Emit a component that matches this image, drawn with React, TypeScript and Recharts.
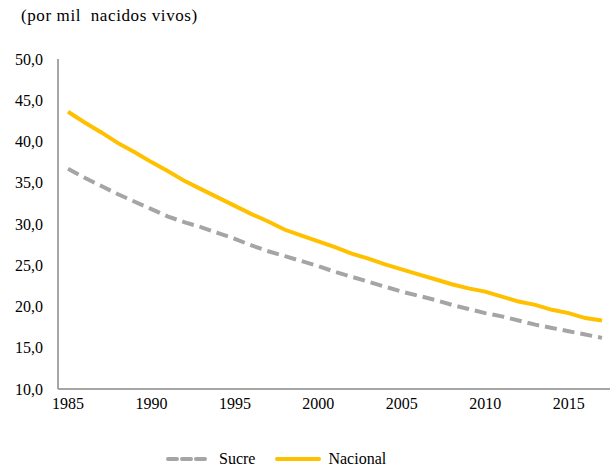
import { CartesianGrid, Line, LineChart, XAxis, YAxis } from "recharts";

const YEARS = [
  1985, 1986, 1987, 1988, 1989, 1990, 1991, 1992, 1993, 1994, 1995, 1996, 1997,
  1998, 1999, 2000, 2001, 2002, 2003, 2004, 2005, 2006, 2007, 2008, 2009, 2010,
  2011, 2012, 2013, 2014, 2015, 2016, 2017,
];

const SUCRE = [
  36.7, 35.6, 34.6, 33.6, 32.7, 31.8, 30.9, 30.2, 29.6, 28.9, 28.2, 27.4, 26.7,
  26.1, 25.5, 24.9, 24.2, 23.6, 23.0, 22.4, 21.8, 21.3, 20.8, 20.2, 19.7, 19.2,
  18.8, 18.3, 17.8, 17.4, 17.0, 16.6, 16.2,
];

const NACIONAL = [
  43.6, 42.3, 41.1, 39.8, 38.7, 37.5, 36.4, 35.2, 34.2, 33.2, 32.2, 31.2, 30.3,
  29.3, 28.6, 27.9, 27.2, 26.4, 25.8, 25.1, 24.5, 23.9, 23.3, 22.7, 22.2, 21.8,
  21.2, 20.6, 20.2, 19.6, 19.2, 18.6, 18.3,
];

const Y_TICKS = [10, 15, 20, 25, 30, 35, 40, 45, 50];

const data = YEARS.map((year, i) => ({
  year,
  sucre: SUCRE[i],
  nacional: NACIONAL[i],
}));

const FONT = "'Liberation Serif', 'DejaVu Serif', 'Times New Roman', serif";
const AXIS = "#898989";
const GREY = "#A5A5A5";
const GOLD = "#FFC000";

const tickStyle = { fontFamily: FONT, fontSize: 16, fill: "#000" };

// legend drawn outside the chart so it doesn't shrink the plot area
function LegendBox() {
  const items = [
    { label: "Sucre", color: GREY, dash: "9 5" },
    { label: "Nacional", color: GOLD, dash: undefined },
  ];
  return (
    <div
      style={{
        position: "absolute",
        left: 166,
        top: 450,
        display: "flex",
        alignItems: "center",
        fontFamily: FONT,
        fontSize: 16,
      }}
    >
      {items.map((it) => (
        <span key={it.label} style={{ display: "flex", alignItems: "center", marginRight: 20 }}>
          <svg width={46} height={10} style={{ marginRight: 7 }}>
            <line
              x1={2}
              y1={5}
              x2={44}
              y2={5}
              stroke={it.color}
              strokeWidth={4}
              strokeDasharray={it.dash}
              strokeLinecap="round"
            />
          </svg>
          {it.label}
        </span>
      ))}
    </div>
  );
}

export default function App() {
  return (
    <div style={{ position: "absolute", left: 0, top: 0, width: 612, height: 473, background: "#fff" }}>
      <div
        style={{
          position: "absolute",
          left: 21,
          top: 6,
          fontFamily: FONT,
          fontSize: 17,
          letterSpacing: 0.6,
          whiteSpace: "pre",
        }}
      >
        (por mil  nacidos vivos)
      </div>
      <LineChart
        width={612}
        height={473}
        data={data}
        margin={{ top: 59, right: 2, bottom: 54, left: 0 }}
      >
        <CartesianGrid stroke="none" />
        <XAxis
          dataKey="year"
          interval={4}
          height={30}
          padding={{ left: 10, right: 8 }}
          stroke={AXIS}
          strokeWidth={1.5}
          tick={tickStyle}
          tickLine={false}
          tickSize={0}
          tickMargin={9}
        />
        <YAxis
          width={58}
          domain={[10, 50]}
          ticks={Y_TICKS}
          interval={0}
          stroke={AXIS}
          strokeWidth={1.5}
          tick={tickStyle}
          tickLine={false}
          tickSize={0}
          tickMargin={15}
          tickFormatter={(v: number) => v.toFixed(1).replace(".", ",")}
        />
        <Line
          type="linear"
          dataKey="sucre"
          name="Sucre"
          stroke={GREY}
          strokeWidth={4}
          strokeDasharray="12 6"
          dot={false}
          isAnimationActive={false}
        />
        <Line
          type="linear"
          dataKey="nacional"
          name="Nacional"
          stroke={GOLD}
          strokeWidth={4}
          dot={false}
          isAnimationActive={false}
        />
      </LineChart>
      <LegendBox />
    </div>
  );
}
